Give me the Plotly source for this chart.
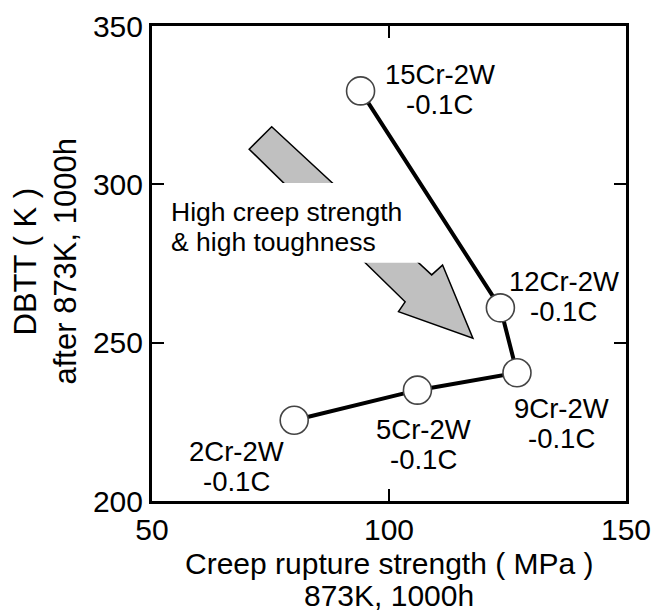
import plotly.graph_objects as go

# Data
alloys = ["2Cr-2W", "5Cr-2W", "9Cr-2W", "12Cr-2W", "15Cr-2W"]
carbon = ["-0.1C", "-0.1C", "-0.1C", "-0.1C", "-0.1C"]
creep_strength = [80, 106, 127, 123.5, 94]          # MPa, 873K 1000h
dbtt = [225.5, 235, 240.5, 261, 329.5]               # K

x_ticks = [50, 100, 150]
y_ticks = [200, 250, 300, 350]

# label block centres (data coords) for each alloy label
label_pos = [(67.8, 211), (107.3, 217.7), (136.4, 224.6), (136.9, 264.7), (110.7, 329.8)]

# big gray arrow (decoration) outline in data coords
arrow_x = [75.25, 109.0, 111.3, 117.7, 102.0, 103.4, 70.5]
arrow_y = [318.2, 271.4, 274.5, 251.4, 259.8, 262.9, 311.1]

FONT = "Liberation Sans, Arial, Helvetica, sans-serif"

fig = go.Figure()
fig.add_trace(go.Scatter(
    x=creep_strength, y=dbtt, mode="lines+markers",
    line=dict(color="black", width=4),
    marker=dict(size=28, color="white", line=dict(color="#444444", width=1.6)),
    showlegend=False, hoverinfo="skip"))

path = "M " + " L ".join(f"{a},{b}" for a, b in zip(arrow_x, arrow_y)) + " Z"
fig.add_shape(type="path", path=path, xref="x", yref="y",
              fillcolor="#c0c0c0", line=dict(color="black", width=1.5), layer="below")
# white box behind the arrow text
fig.add_shape(type="rect", xref="x", yref="y", x0=52.5, x1=112.4, y0=275.2, y1=300.4,
              fillcolor="white", line=dict(width=0), layer="below")


def add_block(x, y, lines, size, spacing, xanchor="center", xref="x", yref="y", yoff=0):
    n = len(lines)
    for i, t in enumerate(lines):
        fig.add_annotation(x=x, y=y, xref=xref, yref=yref, text=t, showarrow=False,
                           xanchor=xanchor, yanchor="middle",
                           yshift=((n - 1) / 2 - i) * spacing + yoff,
                           font=dict(family=FONT, size=size, color="black"))


for (lx, ly), a, c in zip(label_pos, alloys, carbon):
    add_block(lx, ly, [a, c], 27.5, 30)

add_block(53.6, 286.5, ["High creep strength", "&amp; high toughness"], 26.5, 30, xanchor="left")

# y axis title: two rotated lines
for txt, px in [("DBTT ( K )", 25), ("after 873K, 1000h", 65)]:
    fig.add_annotation(x=0, y=0.5, xref="paper", yref="paper", xshift=px - 152, yshift=2,
                       text=txt, textangle=-90, showarrow=False,
                       xanchor="center", yanchor="middle",
                       font=dict(family=FONT, size=31, color="black"))

# x axis title: two lines
for txt, py in [("Creep rupture strength ( MPa )", 563), ("873K, 1000h", 595)]:
    fig.add_annotation(x=0.5, y=0, xref="paper", yref="paper", yshift=501 - py,
                       text=txt, showarrow=False, xanchor="center", yanchor="middle",
                       font=dict(family=FONT, size=30, color="black"))

axis_common = dict(showline=True, linewidth=3, linecolor="black", mirror="ticks",
                   ticks="inside", ticklen=12, tickwidth=2, tickcolor="black",
                   showgrid=False, zeroline=False, automargin=False,
                   tickfont=dict(family=FONT, size=30, color="black"))

fig.update_xaxes(range=[50, 150], tickvals=x_ticks, **axis_common)
fig.update_yaxes(range=[200, 350], tickvals=y_ticks, **axis_common)

fig.update_layout(width=653, height=613, margin=dict(l=152, r=27, t=26, b=112, autoexpand=False),
                  paper_bgcolor="white", plot_bgcolor="white")

fig.write_html("out.html")
